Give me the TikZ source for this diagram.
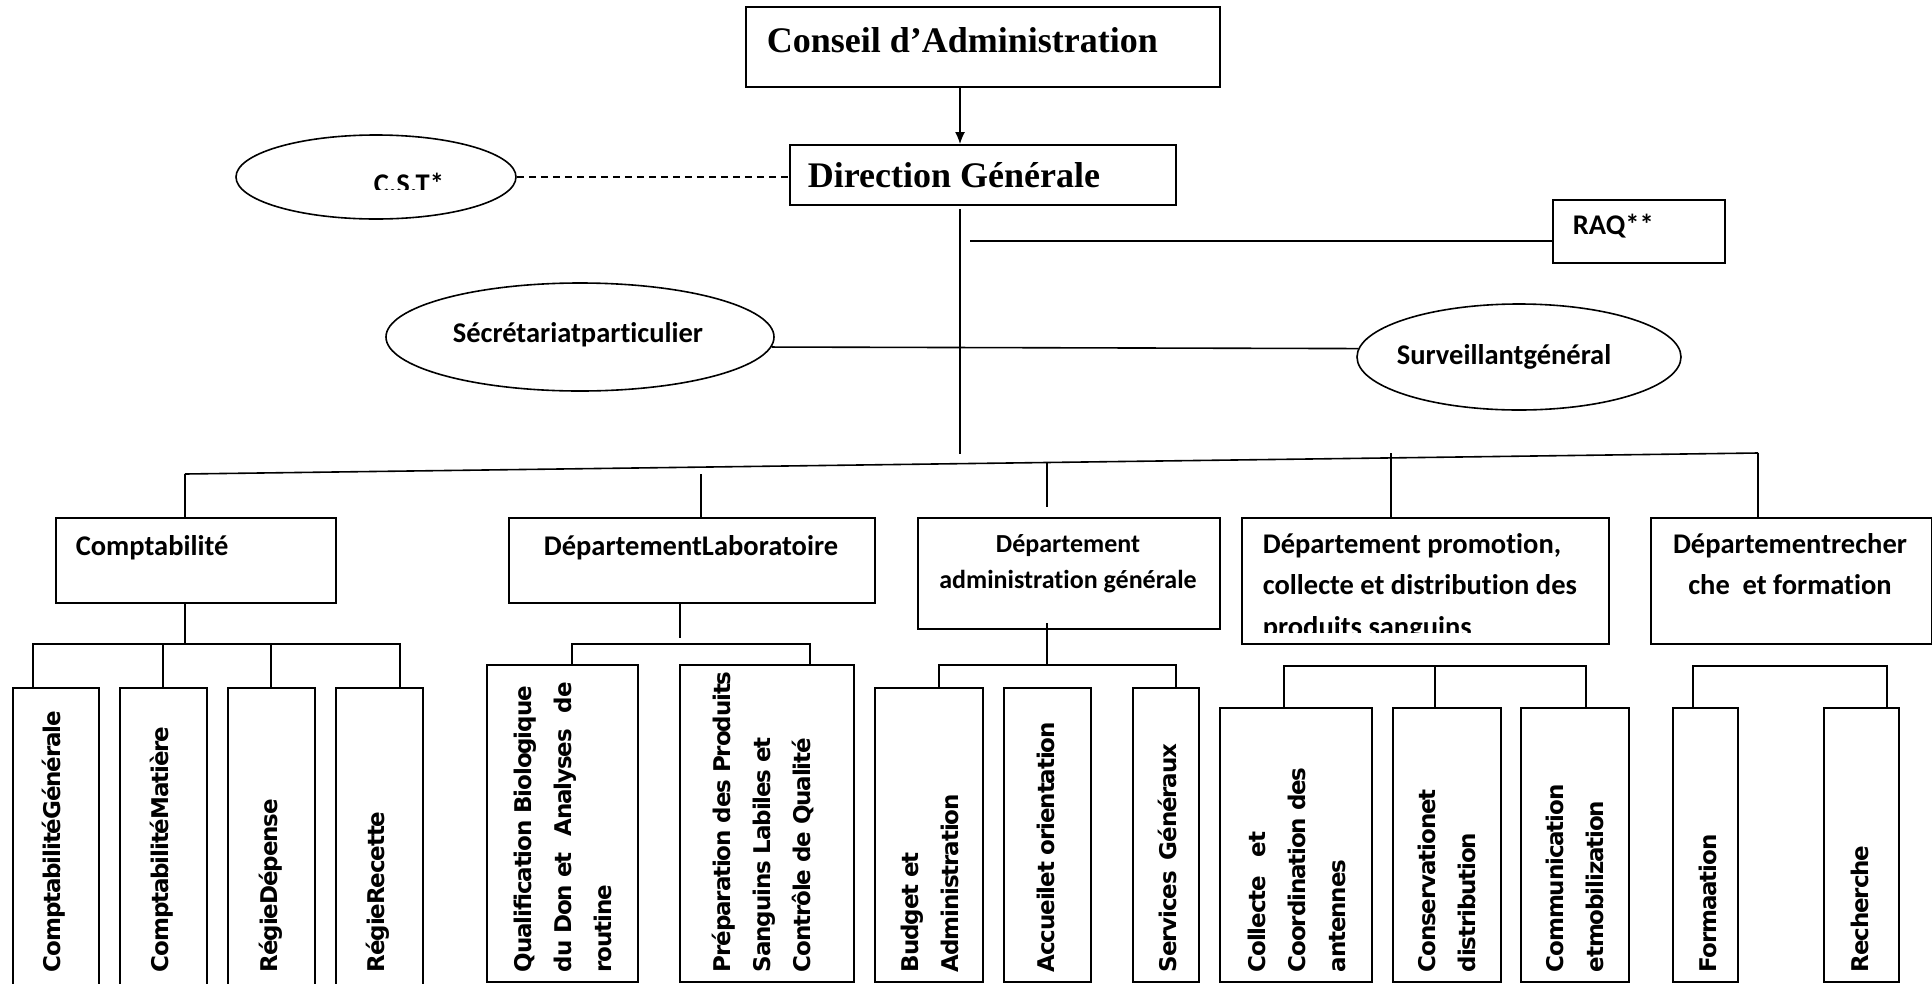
\documentclass[tikz,border=0pt]{standalone}
\usepackage{fontspec}
\setmainfont{Liberation Serif}
\newfontfamily\calfont[Ligatures=NoCommon]{Carlito}
\newfontfamily\vfont[LetterSpace=-5]{DejaVu Sans}
\usetikzlibrary{shapes.geometric,arrows.meta}
\begin{document}
\begin{tikzpicture}[x=1pt,y=-1pt,line width=1.6pt,
  box/.style={draw,rectangle,inner sep=0,anchor=north west,line width=1.6pt},
  oval/.style={draw,ellipse,inner sep=0,line width=1.6pt},
  ttl/.style={inner sep=0,anchor=base west,font=\bfseries\fontsize{36}{40}\selectfont},
  lbl/.style={inner sep=0,anchor=base west,font=\calfont\bfseries\fontsize{28.5}{40}\selectfont},
  lbls/.style={inner sep=0,anchor=base,font=\calfont\bfseries\fontsize{26}{36}\selectfont},
  vt/.style={rotate=90,anchor=west,inner sep=0,align=left,font=\vfont\bfseries\fontsize{23}{40}\selectfont},
  arr/.style={-{Latex[length=12pt,width=10pt]},line width=1.3pt},
  dashline/.style={dash pattern=on 7pt off 5pt,line width=1.4pt}]
\useasboundingbox (0,0) rectangle (1932,983);

% ---------- top ----------
\node[box,minimum width=474pt,minimum height=80pt] (cons) at (745,6) {};
\node[ttl] (tcons) at (766,52) {Conseil d’Administration};
\node[box,minimum width=386pt,minimum height=60pt] (dg) at (789,144) {};
\node[ttl] (tdg) at (807,187) {Direction Générale};
\coordinate (spine) at (960,0);
\draw[arr] (cons.south -| spine) -- (dg.north -| spine);

\node[oval,minimum width=280pt,minimum height=84pt] (cst) at (376,177) {};
\begin{scope}
\clip (236,135) rectangle (517,189);
\node[lbl] (tcst) at (373,193) {C.S.T*};
\end{scope}
\draw[dashline] (cst.east) -- (cst.east -| dg.west);

\coordinate (sp1) at (960,209);
\coordinate (sp2) at (960,454);
\draw (sp1) -- (sp2);

\node[box,minimum width=172pt,minimum height=63pt] (raq) at (1552,199) {};
\node[lbl] (traq) at (1572,234) {RAQ**};
\coordinate (rq) at (970,241);
\draw (rq) -- (rq -| raq.west);

\node[oval,minimum width=388pt,minimum height=108pt] (sec) at (580,337) {};
\node[lbl] (tsec) at (452,342) {Sécrétariatparticulier};
\node[oval,minimum width=324pt,minimum height=106pt] (surv) at (1519,357) {};
\node[lbl] (tsurv) at (1396,364) {Surveillantgénéral};
\draw (sec.-3) -- (surv.177.5);

% ---------- main bar ----------
\coordinate (mL) at (185,474);
\coordinate (mR) at (1758,453);
\draw (mL) -- (mR);

% ---------- level 2 ----------
\node[box,minimum width=280pt,minimum height=85pt] (comp) at (55,517) {};
\node[lbl] (tcomp) at (75,555) {Comptabilité};
\node[box,minimum width=366pt,minimum height=85pt] (lab) at (508,517) {};
\node[lbl,anchor=base] (tlab) at (691,555) {DépartementLaboratoire};
\node[box,minimum width=302pt,minimum height=111pt] (adm) at (917,517) {};
\node[lbls] (tadm1) at (1068,552) {Département};
\node[lbls] (tadm2) at (1068,588) {administration générale};
\node[box,minimum width=367pt,minimum height=126pt] (pro) at (1241,517) {};
\node[lbl] (tpro1) at (1262,553) {Département promotion,};
\node[lbl] (tpro2) at (1262,594) {collecte et distribution des};
\begin{scope}
\clip (1241,517) rectangle (1608,632);
\node[lbl] (tpro3) at (1262,636) {produits sanguins};
\end{scope}
\node[box,minimum width=281pt,minimum height=126pt] (rec) at (1650,517) {};
\node[lbl,anchor=base] (trec1) at (1790,553) {Départementrecher};
\node[lbl,anchor=base] (trec2) at (1790,594) {che\ \ et formation};

\draw (mL) -- (mL |- comp.north);
\coordinate (dLab) at (701,474);
\draw (dLab) -- (dLab |- lab.north);
\coordinate (dAdm) at (1047,463);
\coordinate (dAdmE) at (1047,507);
\draw (dAdm) -- (dAdmE);
\coordinate (dPro) at (1391,453);
\draw (dPro) -- (dPro |- pro.north);
\draw (mR) -- (mR |- rec.north);

% ---------- level 3 boxes ----------
\node[box,minimum width=86pt,minimum height=320pt] (cg) at (12,687) {};
\node[box,minimum width=87pt,minimum height=320pt] (cm) at (119,687) {};
\node[box,minimum width=87pt,minimum height=320pt] (rd) at (227,687) {};
\node[box,minimum width=87pt,minimum height=320pt] (rr) at (335,687) {};
\node[box,minimum width=151pt,minimum height=317pt] (qb) at (486,664) {};
\node[box,minimum width=174pt,minimum height=317pt] (pp) at (679,664) {};
\node[box,minimum width=108pt,minimum height=294pt] (bud) at (874,687) {};
\node[box,minimum width=87pt,minimum height=294pt] (acc) at (1003,687) {};
\node[box,minimum width=66pt,minimum height=294pt] (srv) at (1132,687) {};
\node[box,minimum width=152pt,minimum height=274pt] (col) at (1219,707) {};
\node[box,minimum width=108pt,minimum height=274pt] (con) at (1392,707) {};
\node[box,minimum width=108pt,minimum height=274pt] (com) at (1520,707) {};
\node[box,minimum width=65pt,minimum height=274pt] (frm) at (1672,707) {};
\node[box,minimum width=75pt,minimum height=274pt] (rch) at (1823,707) {};

\node[vt] (tcg) at (54,973) {ComptabilitéGénérale};
\node[vt] (tcm) at (162,973) {ComptabilitéMatière};
\node[vt] (trd) at (271,973) {RégieDépense};
\node[vt] (trr) at (378,973) {RégieRecette};
\node[vt] (tqb) at (563,973) {Qualification Biologique\\du Don et\hspace{9pt} Analyses\hspace{9pt} de\\routine};
\node[vt] (tpp) at (763,973) {Préparation des Produits\\Sanguins Labiles et\\Contrôle de Qualité};
\node[vt] (tbud) at (930,973) {Budget et\\Administration};
\node[vt] (tacc) at (1046,973) {Accueilet orientation};
\node[vt] (tsrv) at (1167,973) {Services\hspace{4pt} Généraux};
\node[vt] (tcol) at (1297,973) {Collecte\hspace{12pt} et\\Coordination des\\antennes};
\node[vt] (tcon) at (1447,973) {Conservationet\\distribution};
\node[vt] (tcom) at (1575,973) {Communication\\etmobilization};
\node[vt] (tfrm) at (1708,973) {Formaation};
\node[vt] (trch) at (1860,973) {Recherche};

% ---------- level 3 connectors ----------
\coordinate (bc0) at (185,644);
\coordinate (bc1) at (33,644);
\coordinate (bc2) at (163,644);
\coordinate (bc3) at (271,644);
\coordinate (bc4) at (400,644);
\draw (comp.south -| bc0) -- (bc0);
\draw (cg.north -| bc1) -- (bc1) -- (bc4) -- (rr.north -| bc4);
\draw (bc2) -- (cm.north -| bc2);
\draw (bc3) -- (rd.north -| bc3);

\coordinate (bl0) at (680,638);
\coordinate (bl1) at (572,644);
\coordinate (bl2) at (810,644);
\draw (lab.south -| bl0) -- (bl0);
\draw (qb.north -| bl1) -- (bl1) -- (bl2) -- (pp.north -| bl2);

\coordinate (ba00) at (1047,623);
\coordinate (ba0) at (1047,665);
\coordinate (ba1) at (939,665);
\coordinate (ba2) at (1176,665);
\draw (ba00) -- (ba0);
\draw (bud.north -| ba1) -- (ba1) -- (ba2) -- (srv.north -| ba2);

\coordinate (bp1) at (1284,666);
\coordinate (bp2) at (1435,666);
\coordinate (bp3) at (1586,666);
\draw (col.north -| bp1) -- (bp1) -- (bp3) -- (com.north -| bp3);
\draw (bp2) -- (con.north -| bp2);

\coordinate (br1) at (1693,666);
\coordinate (br2) at (1887,666);
\draw (frm.north -| br1) -- (br1) -- (br2) -- (rch.north -| br2);
\end{tikzpicture}
\end{document}
